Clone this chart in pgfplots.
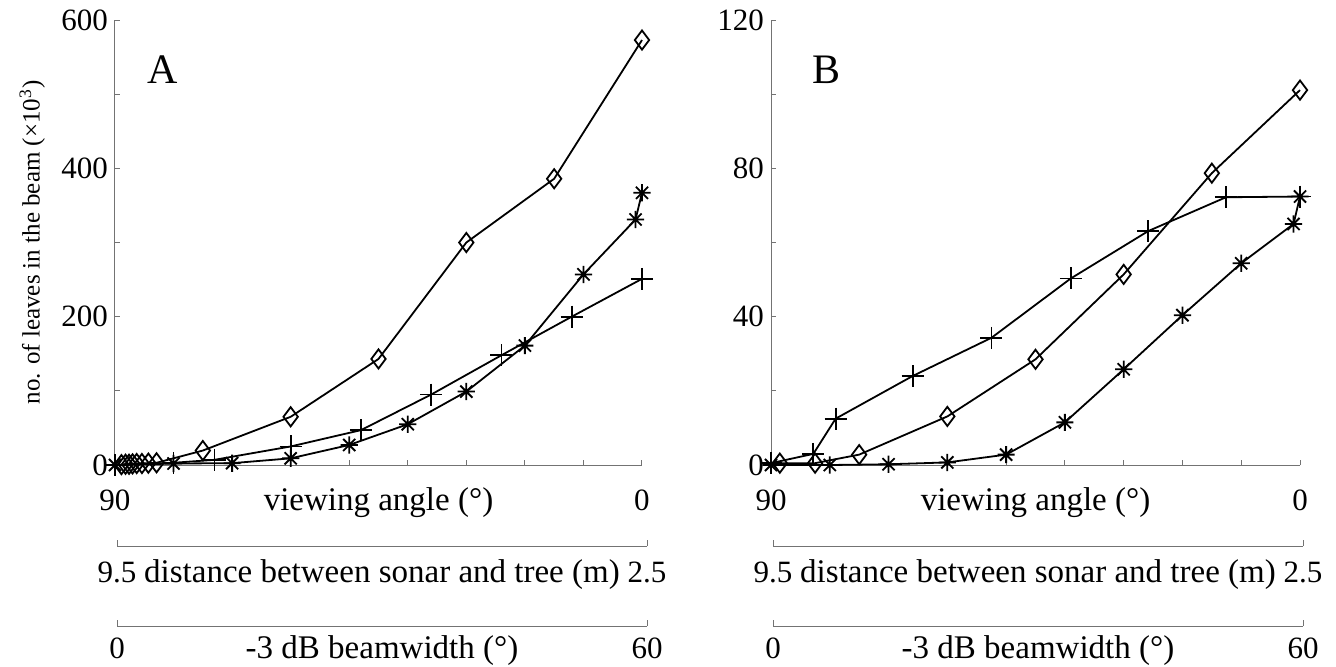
\documentclass[border=0pt]{standalone}
\usepackage{fontspec}
\setmainfont{Liberation Serif}
\usepackage{pgfplots}
\pgfplotsset{compat=1.18}

% matlab-like '*' marker: + and x on top of each other
\pgfdeclareplotmark{ast8}{%
  \pgfpathmoveto{\pgfqpoint{-\pgfplotmarksize}{0pt}}%
  \pgfpathlineto{\pgfqpoint{\pgfplotmarksize}{0pt}}%
  \pgfpathmoveto{\pgfqpoint{0pt}{-\pgfplotmarksize}}%
  \pgfpathlineto{\pgfqpoint{0pt}{\pgfplotmarksize}}%
  \pgfpathmoveto{\pgfqpoint{-0.707\pgfplotmarksize}{-0.707\pgfplotmarksize}}%
  \pgfpathlineto{\pgfqpoint{0.707\pgfplotmarksize}{0.707\pgfplotmarksize}}%
  \pgfpathmoveto{\pgfqpoint{-0.707\pgfplotmarksize}{0.707\pgfplotmarksize}}%
  \pgfpathlineto{\pgfqpoint{0.707\pgfplotmarksize}{-0.707\pgfplotmarksize}}%
  \pgfusepathqstroke}

\newcommand{\tickfont}{\fontsize{15.5}{18}\selectfont}
\newcommand{\labfont}{\fontsize{16.5}{19}\selectfont}

\pgfplotsset{
  panel/.style={
    scale only axis, height=222.5pt, anchor=south west,
    axis x line*=bottom, axis y line*=left,
    axis line style={black!55, line width=0.5pt},
    tick style={black!55, line width=0.5pt},
    tick align=inside, major tick length=2.4pt, minor tick length=2.4pt,
    xmin=0, xmax=90, x dir=reverse,
    xtick={0,90}, minor xtick={10,20,...,80},
    /pgf/number format/assume math mode=true,
    tick label style={font=\tickfont},
    xticklabel style={anchor=base, yshift=-22.5pt},
    xlabel={viewing angle (°)},
    xlabel style={font=\labfont, at={(axis description cs:0.5,0)}, anchor=base, yshift=-22.5pt},
    ymin=0, clip=false,
  },
  bracket/.style={
    scale only axis, height=10pt, anchor=south west,
    axis x line*=bottom, axis y line=none, ytick=\empty,
    axis line style={black!55, line width=0.5pt},
    tick style={black!55, line width=0.5pt},
    tick align=inside, major tick length=3pt,
    xmin=0, xmax=1, ymin=0, ymax=1, xtick={0,1},
    tick label style={font=\tickfont},
    xticklabel style={anchor=base},
    xlabel style={font=\labfont, at={(axis description cs:0.5,0)}, anchor=base},
  },
  ser/.style={black, line width=0.9pt, mark options={solid, line width=0.9pt}},
  dia/.style={ser, mark=diamond, mark size=4.8pt},
  crs/.style={ser, mark=+, mark size=5.5pt},
  ast/.style={ser, mark=ast8, mark size=4.3pt},
}

\begin{document}
\begin{tikzpicture}
\path[use as bounding box] (0,0) rectangle (668pt,333pt);

% ---------- panel A ----------
\begin{axis}[panel, width=263.5pt, at={(57.5pt,100.5pt)},
  ymax=600, ytick={0,200,400,600}, minor ytick={100,300,500},
  ylabel={no. of leaves in the beam (×10\textsuperscript{3})},
  ylabel style={font=\fontsize{12.5}{15}\selectfont, at={(axis description cs:-0.157,0.5)}, anchor=center},
]
\addplot[dia] coordinates {
 (88.9,0.5) (88.2,1) (87.6,1) (87.0,1.5) (86.3,2) (85.4,2) (84.3,2.5) (82.9,3)
 (75,19.5) (60,65) (45,143) (30,300) (15,386) (0,573)
};
\addplot[crs] coordinates {
 (90,0) (80,3) (73,7) (60,25) (48,47) (36,95) (24,148) (12,200) (0,251)
};
\addplot[ast] coordinates {
 (90,0) (80,2) (70,2.5) (60,9) (50,27) (40,55) (30,99) (20,161) (10,257) (1.1,331) (0,367)
};
\node[font=\fontsize{21}{24}\selectfont] at (axis description cs:0.091,0.888) {A};
\end{axis}

\begin{axis}[bracket, width=265pt, at={(58.5pt,60pt)}, xticklabels={9.5,2.5},
  xticklabel style={yshift=-18pt}, xlabel={distance between sonar and tree (m)},
  xlabel style={yshift=-18pt}]
\end{axis}
\begin{axis}[bracket, width=265pt, at={(58.5pt,20pt)}, xticklabels={0,60},
  xticklabel style={yshift=-16pt}, xlabel={-3 dB beamwidth (°)},
  xlabel style={yshift=-16pt}]
\end{axis}

% ---------- panel B ----------
\begin{axis}[panel, width=264.5pt, at={(385.5pt,100.5pt)},
  ymax=120, ytick={0,40,80,120}, minor ytick={20,60,100},
]
\addplot[dia] coordinates {
 (88.5,0.5) (82.5,0.5) (75,2.8) (60,13.1) (45,28.5) (30,51.4) (15,78.7) (0,101.1)
};
\addplot[crs] coordinates {
 (90,0.5) (82.8,3) (79,12.5) (65.9,24) (52.5,34.3) (39,50.3) (25.8,63.1) (12.6,72.2) (0,72.4)
};
\addplot[ast] coordinates {
 (90,0) (80,0) (70,0.2) (60,0.7) (50,2.8) (40,11.5) (30,25.8) (20,40.4) (10,54.4) (1.1,65) (0,72.4)
};
\node[font=\fontsize{21}{24}\selectfont] at (axis description cs:0.104,0.888) {B};
\end{axis}

\begin{axis}[bracket, width=265pt, at={(386.5pt,60pt)}, xticklabels={9.5,2.5},
  xticklabel style={yshift=-18pt}, xlabel={distance between sonar and tree (m)},
  xlabel style={yshift=-18pt}]
\end{axis}
\begin{axis}[bracket, width=265pt, at={(386.5pt,20pt)}, xticklabels={0,60},
  xticklabel style={yshift=-16pt}, xlabel={-3 dB beamwidth (°)},
  xlabel style={yshift=-16pt}]
\end{axis}
\end{tikzpicture}
\end{document}
